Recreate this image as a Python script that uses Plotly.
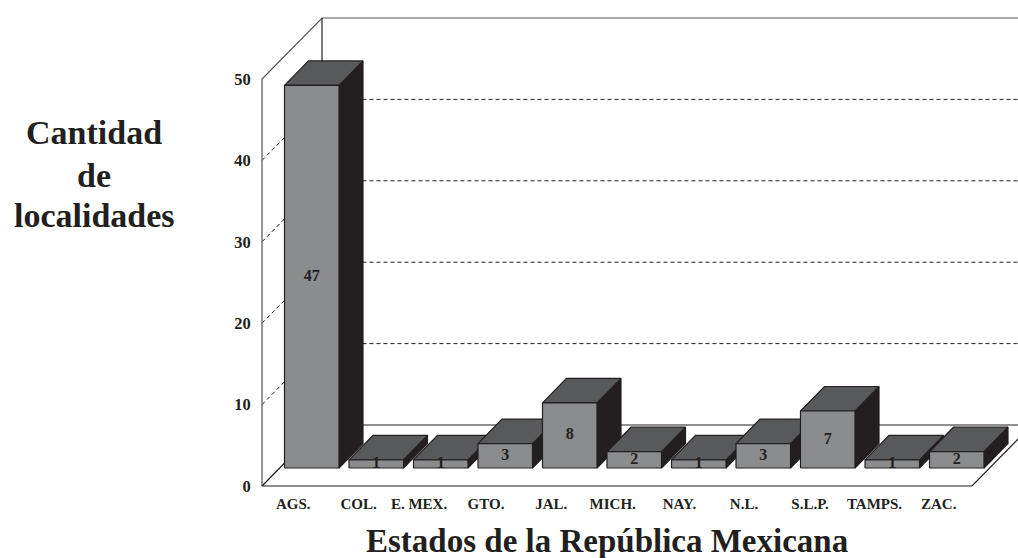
import plotly.graph_objects as go

estados = ["AGS.", "COL.", "E. MEX.", "GTO.", "JAL.", "MICH.", "NAY.", "N.L.", "S.L.P.", "TAMPS.", "ZAC."]
localidades = [47, 1, 1, 3, 8, 2, 1, 3, 7, 1, 2]
label_shift = [-0.286, -0.275, -0.337, -0.298, -0.286, -0.334, -0.298, -0.298, -0.275, -0.275, -0.28]
y_ticks = [0, 10, 20, 30, 40, 50]
y_title_lines = ["Cantidad", "de", "localidades"]
y_title_px = [133, 175, 215]
x_title = "Estados de la República Mexicana"

W, H = 1018, 558
PITCH, UNIT = 64.5, 8.14      # px per category / px per value
X0_PX, Y0_PX = 311.75, 486.0  # pixel of category 0 / value 0
x_range = [-X0_PX / PITCH, (W - X0_PX) / PITCH]
y_range = [(Y0_PX - H) / UNIT, Y0_PX / UNIT]

WALL_L, WALL_R = -0.771, 10.236
WALL_DX, WALL_DY = 60 / PITCH, 61 / UNIT
HALF = 27.25 / PITCH
BASE = 18 / UNIT
BAR_DX, BAR_DY = 24 / PITCH, 24.5 / UNIT
FAR = x_range[1] + 1

INK = "#231f20"
FRONT, TOP, SIDE = "#8a8c8e", "#58595b", "#231f20"
FONT = "Liberation Serif"

fig = go.Figure()


def line(xs, ys, color=INK, width=1.2, dash=None):
    fig.add_trace(go.Scatter(x=xs, y=ys, mode="lines", hoverinfo="skip", showlegend=False,
                             line=dict(color=color, width=width, dash=dash)))


def face(xs, ys, fill):
    fig.add_trace(go.Scatter(x=xs + xs[:1], y=ys + ys[:1], mode="lines", fill="toself", fillcolor=fill,
                             hoverinfo="skip", showlegend=False, line=dict(color=INK, width=1.2)))


# wall gridlines
top = y_ticks[-1]
for t in y_ticks[1:-1]:
    line([WALL_L, WALL_L + WALL_DX, FAR], [t, t + WALL_DY, t + WALL_DY], dash="4px,3px", width=1)

# walls and floor
line([WALL_L, WALL_L, WALL_L + WALL_DX, FAR], [0, top, top + WALL_DY, top + WALL_DY], color="#555555")
line([WALL_L + WALL_DX, WALL_L + WALL_DX], [WALL_DY, top + WALL_DY])
line([WALL_L + WALL_DX, FAR], [WALL_DY, WALL_DY])
line([WALL_L + WALL_DX, WALL_L, WALL_R, WALL_R + WALL_DX], [WALL_DY, 0, 0, WALL_DY])

# bars
for i, v in enumerate(localidades):
    l, r = i - HALF, i + HALF
    b, t = BASE, BASE + v
    face([r, r + BAR_DX, r + BAR_DX, r], [b, b + BAR_DY, t + BAR_DY, t], SIDE)
    face([l, l + BAR_DX, r + BAR_DX, r], [t, t + BAR_DY, t + BAR_DY, t], TOP)
    face([l, r, r, l], [b, b, t, t], FRONT)

fig.add_trace(go.Scatter(
    x=list(range(len(localidades))), y=[BASE + v / 2 for v in localidades],
    mode="text", text=[str(v) for v in localidades], hoverinfo="skip", showlegend=False,
    textfont=dict(family=FONT, size=16, color=INK, weight="bold"), textposition="middle center"))

annotations = [
    dict(text=txt, xref="paper", yref="paper", x=94 / W, y=1 - py / H, showarrow=False,
         xanchor="center", yanchor="middle",
         font=dict(family=FONT, size=34, color=INK, weight="bold"))
    for txt, py in zip(y_title_lines, y_title_px)
]
annotations.append(
    dict(text=x_title, xref="paper", yref="paper", x=607 / W, y=1 - 541 / H, showarrow=False,
         xanchor="center", yanchor="middle",
         font=dict(family=FONT, size=33, color=INK, weight="bold")))

fig.update_layout(
    width=W, height=H, margin=dict(l=0, r=0, t=0, b=0), autosize=False,
    paper_bgcolor="white", plot_bgcolor="rgba(0,0,0,0)", showlegend=False,
    xaxis=dict(range=x_range, anchor="free", position=(H - Y0_PX) / H, showgrid=False, zeroline=False,
               showline=False, tickmode="array",
               tickvals=[i + s for i, s in enumerate(label_shift)], ticktext=estados, tickangle=0,
               ticks="outside", ticklen=4, tickwidth=0, tickcolor="rgba(0,0,0,0)",
               tickfont=dict(family=FONT, size=15, color=INK, weight="bold")),
    yaxis=dict(range=y_range, anchor="free", position=(WALL_L - x_range[0]) / (x_range[1] - x_range[0]),
               showgrid=False, zeroline=False, showline=False, tickmode="array",
               tickvals=y_ticks, ticktext=[str(t) for t in y_ticks],
               ticks="outside", ticklen=8, tickwidth=0, tickcolor="rgba(0,0,0,0)",
               tickfont=dict(family=FONT, size=16.5, color=INK, weight="bold")),
    annotations=annotations,
)

fig.write_html("out.html", post_script="document.body.style.margin='0';", config={"displayModeBar": False})
